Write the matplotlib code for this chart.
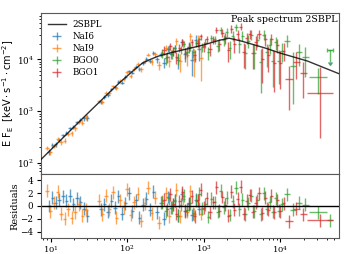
import numpy as np
import matplotlib.pyplot as plt

plt.rcParams['font.family'] = 'serif'
plt.rcParams['font.size'] = 6.3
plt.rcParams['xtick.major.size'] = 3
plt.rcParams['ytick.major.size'] = 3
plt.rcParams['xtick.minor.size'] = 1.7
plt.rcParams['ytick.minor.size'] = 1.7
plt.rcParams['xtick.major.pad'] = 1.0
plt.rcParams['ytick.major.pad'] = 2.5
plt.rcParams['xtick.labelsize'] = 6

# 2SBPL model curve (E [keV], E F_E)
model_e = [7.5, 10, 15.8, 31.6, 63.1, 79.4, 100, 126, 158, 200, 251, 316, 398, 631,
           1000, 1585, 2140, 3160, 6310, 10000, 22400, 58900]
model_f = [117, 178, 347, 955, 2570, 3550, 4790, 6460, 8510, 10000, 11500, 12600, 13800,
           16200, 19100, 23400, 25700, 22400, 16600, 13200, 9330, 5250]

# NaI6
nai6_edges = [9.0, 10.0, 11.1, 12.3, 13.7, 15.2, 16.9, 18.8, 20.9, 23.2, 25.8, 28.7, 32.0,
              43.0, 47.8, 53.1, 59.0, 65.6, 72.9, 81.0, 90.0, 100, 111, 123, 137, 152, 169,
              188, 209, 232, 258, 287, 319, 354, 394, 438, 487, 541, 601, 668, 742, 825, 917]
nai6_flux = [164, 218, 230, 283, 343, 381, 466, 492, 609, 681, 729, 744, np.nan,
             1514, 1907, 2030, 2653, 2889, 3744, 3563, 4592, 5848, 5560, 7247, 6497, 8646,
             10254, 9400, 13289, 9988, 12514, 8610, 15790, 12771, 16356, 9782, 21623, 12843,
             17561, 9860, 23496, 15652]
nai6_err = [20, 21, 22, 26, 27, 32, 37, 43, 50, 58, 76, 98, np.nan,
            143, 149, 175, 176, 207, 237, 272, 313, 359, 412, 541, 607, 681, 840, 1000, 1177,
            1362, 1528, 1845, 2064, 2430, 2820, 3212, 3624, 4082, 4536, 5100, 5696, 6370]
nai6_res = [0.0, 1.3, 0.5, 1.0, 1.5, 0.8, 1.6, 0.3, 1.2, 0.6, -0.4, -1.5, np.nan,
            -0.5, 0.3, -0.9, 0.8, -0.3, 1.5, -1.2, 0.4, 2.0, -0.8, 0.9, -1.8, 0.2, 1.1, -0.6,
            2.2, -1.0, 0.5, -2.0, 1.4, -0.3, 0.8, -1.5, 1.8, -0.7, 0.3, -1.4, 1.0, -0.4]

# NaI9
nai9_edges = [8.4, 9.4, 10.5, 11.7, 13.0, 14.5, 16.1, 17.9, 19.9, 22.1, 24.6, 27.4, 30.5,
              40.5, 45.0, 50.0, 55.6, 61.8, 68.7, 76.4, 85.0, 94.5, 105, 117, 130, 144, 160,
              178, 198, 220, 245, 272, 302, 336, 374, 416, 462, 514, 571, 635, 706, 785, 873, 970]
nai9_flux = [194, 161, 214, 293, 252, 271, 368, 375, 467, 619, 602, 777, np.nan,
             1549, 1521, 2250, 2262, 3088, 2764, 3860, 4111, 5657, 4880, 6613, 8249, 6446,
             9234, 12366, 9098, 12670, 7686, 13198, 16619, 9384, 14352, 22243, 9215, 19920,
             11990, 28054, 10150, 22883, 10576]
nai9_err = [19, 19, 20, 24, 25, 30, 35, 40, 46, 54, 71, 92, np.nan,
            130, 136, 160, 164, 188, 221, 254, 292, 335, 440, 505, 573, 732, 802, 966, 1139,
            1315, 1509, 1683, 2014, 2372, 2760, 3157, 3590, 4027, 4488, 4980, 5562, 6117, 6703]
nai9_res = [2.4, -0.8, 0.5, 2.2, -1.2, -2.0, -0.5, -1.8, -1.0, 0.3, -1.5, -0.6, np.nan,
            0.8, -1.3, 1.6, -0.5, 2.1, -1.8, 0.9, -0.2, 2.6, -1.4, 0.6, 1.9, -2.3, 0.4, 2.8,
            -1.1, 1.3, -2.6, 0.7, 2.0, -1.6, 0.2, 2.5, -1.6, 1.1, -0.9, 2.3, -1.3, 0.8, -1.2]

# BGO0
bgo0_edges = [275, 302, 331, 363, 398, 437, 479, 525, 575, 631, 692, 759, 832, 912, 1000,
              1096, 1202, 1318, 1445, 1585, 1738, 1905, 2089, 2291, 2512, 2754, 3020, 3311,
              3631, 3981, 4365, 4786, 5248, 5754, 6310, 6918, 7586, 8318, 9120, 10000, 10960,
              13180, 15850, 19050, 23440, 40740]
bgo0_flux = [13498, 10475, 16157, 12681, 16546, 10453, 15685, 19951, 14138, 17592,
             13618, 20340, 24424, 17484, 20612, 13662, 25486, 24506, 18580, 36657,
             23688, 33718, 16328, 28687, 41635, 19703, 28883, 13042, 23034, 30108,
             13414, 24261, 8895, 30224, 13625, 19301, 9199, 21421, 9335, 14619,
             23104, 7605, 13767, 11000, 4570]
bgo0_err = [2675, 2644, 2606, 2698, 2685, 2778, 2725, 2788, 2853, 2954,
            3056, 3200, 3276, 3391, 3705, 3834, 4178, 4376, 4811, 5278,
            5711, 6168, 6280, 6310, 6402, 6415, 6493, 6414, 6534, 6630,
            6782, 6734, 6680, 6622, 6488, 6351, 6212, 6076, 5936, 5796,
            6080, 6243, 6354, 6400, 2400]
bgo0_res = [0.5, -0.8, 1.2, -0.3, 0.9, -1.5, 0.2, 1.6, -0.6, 0.4,
            -1.1, 0.8, 1.9, -0.4, 0.3, -1.7, 1.1, 0.6, -0.9, 2.4,
            -0.2, 1.3, -1.4, 0.7, 2.8, -0.5, 1.0, -1.3, 0.4, 1.6,
            -0.8, 0.9, -1.3, 2.0, -0.4, 0.6, -0.9, 1.2, -0.7, 0.3,
            1.8, -0.6, 0.5, 0.2, -1.0]
# BGO0 last bin: upper limit
bgo0_ul_edges = [40740, 47860]
bgo0_ul_flux = [15100]
bgo0_ul_err = [6200]
bgo0_ul_res = [-2.2]

# BGO1
bgo1_edges = [288, 316, 347, 380, 417, 457, 501, 550, 603, 661, 724, 794, 871, 955, 1047,
              1148, 1259, 1380, 1514, 1660, 1820, 1995, 2188, 2399, 2630, 2884, 3162, 3467,
              3802, 4169, 4571, 5012, 5495, 6026, 6607, 7244, 7943, 8710, 9550, 10470, 11480,
              14450, 17780, 21880]
bgo1_flux = [15252, 11383, 18286, 14628, 10906, 16870, 21419, 13288, 17453, 21421,
             12096, 21066, 27810, 17907, 24577, 16203, 24074, 36675, 19666, 32572,
             26555, 15500, 39308, 19960, 30772, 43035, 13741, 26238, 31142, 13145,
             21877, 31163, 10069, 25016, 12046, 25072, 8381, 19141, 8541, 14856,
             4270, 9000, 5370]
bgo1_err = [2952, 2814, 2787, 2760, 2870, 2829, 2909, 2977, 3082, 3167,
            3302, 3418, 3708, 3810, 3964, 4307, 4490, 4926, 5391, 5851,
            6323, 6607, 6658, 6717, 6766, 6795, 6783, 6685, 6584, 6717,
            6674, 6627, 6574, 6474, 6340, 6207, 6069, 5934, 5799, 5666,
            3200, 4900, 3560]
bgo1_res = [1.0, -0.5, 1.8, 0.3, -1.2, 0.7, 2.1, -0.8, 0.4, 1.5,
            -1.6, 0.9, 2.5, -0.3, 1.2, -1.0, 0.6, 2.9, -0.7, 1.4,
            0.2, -1.5, 2.2, -0.6, 1.1, 3.0, -1.2, 0.8, 1.7, -0.9,
            0.5, 2.0, -1.1, 1.3, -0.6, 1.6, -1.0, 0.9, -0.8, 0.4,
            -2.4, -0.4, -1.3]
# BGO1 last wide bin (asymmetric errors)
bgo1_tail_edges = [21880, 47860]
bgo1_tail_flux = [2240]
bgo1_tail_err_lo = [1940]
bgo1_tail_err_hi = [5000]
bgo1_tail_res = [-2.2]


fig = plt.figure(figsize=(3.52, 2.54), dpi=100)
ax = fig.add_axes([0.1165, 0.316, 0.8465, 0.633])
axr = fig.add_axes([0.1165, 0.062, 0.8465, 0.254], sharex=ax)


def bins(edges):
    edges = np.asarray(edges, float)
    lo, hi = edges[:-1], edges[1:]
    e = np.sqrt(lo * hi)
    return e, np.array([e - lo, hi - e])


def draw(edges, flux, err, res, color, label=None, **kw):
    e, xerr = bins(edges)
    flux = np.asarray(flux, float)
    ok = np.isfinite(flux)
    yerr = np.asarray(err, float)
    if yerr.ndim == 2:
        yerr = yerr[:, ok]
    else:
        yerr = yerr[ok]
    ax.errorbar(e[ok], flux[ok], xerr=xerr[:, ok], yerr=yerr, fmt='none', ecolor=color,
                elinewidth=1, alpha=0.7, label=label, **kw)
    axr.errorbar(e[ok], np.asarray(res, float)[ok], xerr=xerr[:, ok], yerr=1, fmt='none',
                 ecolor=color, elinewidth=1, alpha=0.7)


ax.plot(model_e, model_f, color='k', lw=1, alpha=0.8, label='2SBPL', zorder=5)
draw(nai6_edges, nai6_flux, nai6_err, nai6_res, 'tab:blue', 'NaI6')
draw(nai9_edges, nai9_flux, nai9_err, nai9_res, 'tab:orange', 'NaI9')
draw(bgo0_edges, bgo0_flux, bgo0_err, bgo0_res, 'tab:green', 'BGO0')
draw(bgo1_edges, bgo1_flux, bgo1_err, bgo1_res, 'tab:red', 'BGO1')
draw(bgo0_ul_edges, bgo0_ul_flux, bgo0_ul_err, bgo0_ul_res, 'tab:green',
     uplims=True, capsize=1.5)
draw(bgo1_tail_edges, bgo1_tail_flux, [bgo1_tail_err_lo, bgo1_tail_err_hi], bgo1_tail_res,
     'tab:red')

ax.set_xscale('log')
ax.set_yscale('log')
ax.set_xlim(7.5, 58000)
ax.set_ylim(62, 79000)
ax.set_ylabel(r'$\mathrm{E\ F_E}$  $\mathrm{[keV \cdot s^{-1} \cdot cm^{-2}]}$', fontsize=7)
ax.yaxis.set_label_coords(-0.085, 0.5)
ax.tick_params(labelbottom=False)
ax.text(0.995, 0.985, 'Peak spectrum 2SBPL', transform=ax.transAxes, ha='right', va='top',
        fontsize=6.8)
ax.legend(loc='upper left', frameon=False, borderaxespad=0.4, handletextpad=0.8,
          labelspacing=0.35)

axr.axhline(0, color='k', lw=1)
axr.set_ylim(-5, 5)
axr.set_yticks([-4, -2, 0, 2, 4])
axr.set_ylabel('Residuals', fontsize=7)
axr.yaxis.set_label_coords(-0.072, 0.5)
axr.set_xlabel('E [keV]', fontsize=7, labelpad=0.5)

for a in (ax, axr):
    for s in a.spines.values():
        s.set_color('0.35')

fig.savefig('out.png', dpi=100)
